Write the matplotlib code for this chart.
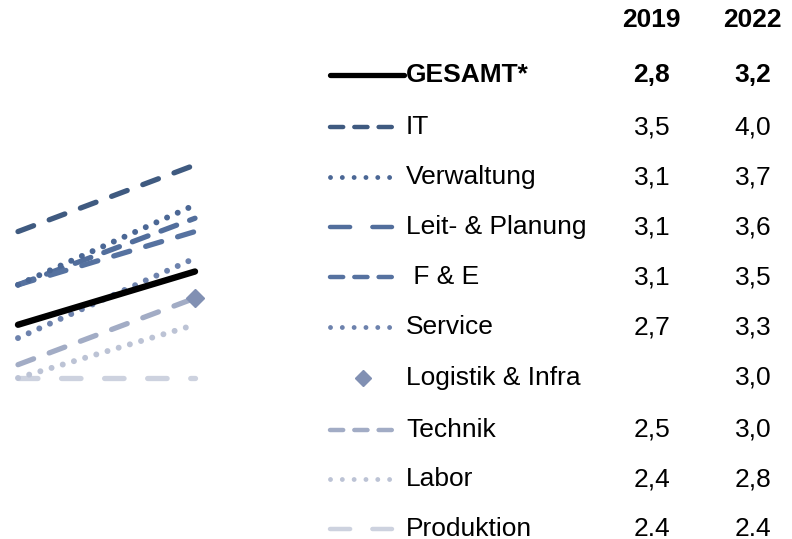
import matplotlib
matplotlib.use("Agg")
import matplotlib.pyplot as plt
from matplotlib.lines import Line2D

plt.rcParams['font.family'] = ['Liberation Sans', 'DejaVu Sans']
plt.rcParams['lines.scale_dashes'] = False

# Daten
years = [2019, 2022]
groups = ["GESAMT*", "IT", "Verwaltung", "Leit- & Planung", " F & E", "Service",
          "Logistik & Infra", "Technik", "Labor", "Produktion"]
values_2019 = [2.8, 3.5, 3.1, 3.1, 3.1, 2.7, None, 2.5, 2.4, 2.4]
values_2022 = [3.2, 4.0, 3.7, 3.6, 3.5, 3.3, 3.0, 3.0, 2.8, 2.4]
labels_2019 = ["2,8", "3,5", "3,1", "3,1", "3,1", "2,7", "", "2,5", "2,4", "2.4"]
labels_2022 = ["3,2", "4,0", "3,7", "3,6", "3,5", "3,3", "3,0", "3,0", "2,8", "2.4"]

# Stil je Gruppe: Farbe, Linienbreite, Dash-Muster (in pt)
colors = ["#000000", "#3F5A80", "#4B6795", "#526E9C", "#5672A0", "#6D82AD",
          "#8190B3", "#A2ACC5", "#BCC3D5", "#CDD2DF"]
widths = [4.6, 3.8, 4.3, 3.8, 3.8, 4.3, 0, 3.8, 4.3, 3.8]
dash_plot = [None, (12, 12), (0.01, 8.4), (12, 10), (12, 12), (0.01, 8.4),
             None, (12, 12), (0.01, 8.4), (14, 17)]
# Legende etwas feiner
widths_leg = [3.8, 3.2, 3.5, 3.2, 3.2, 3.5, 0, 3.2, 3.5, 3.2]
dash_leg = [None, (9.5, 8), (0.01, 8.5), (14.5, 16), (9.5, 8), (0.01, 8.5),
            None, (9.5, 8), (0.01, 8.5), (14.5, 16)]

W, H = 792, 539
FS = 19
fig = plt.figure(figsize=(W / 100, H / 100), dpi=100)

# kleines Slope-Chart links
ax = fig.add_axes([18 / W, 1 - 378 / H, 177 / W, 213 / H])
ax.set_xlim(2019, 2022)
ax.set_ylim(2.4, 4.0)
ax.axis('off')

order = [9, 8, 7, 5, 0, 3, 4, 2, 1, 6]
for i in order:
    if values_2019[i] is None:
        ax.plot([2022], [values_2022[i]], marker='D', markersize=9,
                color=colors[i], linestyle='none', clip_on=False, zorder=5)
        continue
    kw = dict(color=colors[i], linewidth=widths[i], solid_capstyle='round',
              dash_capstyle='round', clip_on=False)
    if dash_plot[i] is not None:
        kw['dashes'] = dash_plot[i]
    ax.plot(years, [values_2019[i], values_2022[i]], **kw)

# Legende / Tabelle rechts
row_y = [75, 127, 177, 227, 277, 327, 378, 430, 479, 529]
fig.text(651 / W, 1 - 20 / H, "2019", ha='center', va='center',
         fontsize=FS, fontweight='bold')
fig.text(752 / W, 1 - 20 / H, "2022", ha='center', va='center',
         fontsize=FS, fontweight='bold')

for i, g in enumerate(groups):
    yy = 1 - row_y[i] / H
    bold = 'bold' if i == 0 else 'normal'
    if values_2019[i] is None:
        fig.add_artist(Line2D([363 / W], [yy], marker='D', markersize=8.5,
                              color=colors[i], linestyle='none'))
    else:
        kw = dict(color=colors[i], linewidth=widths_leg[i],
                  solid_capstyle='round', dash_capstyle='round')
        if dash_leg[i] is not None:
            kw['dashes'] = dash_leg[i]
        x1 = 404 if i == 0 else 392
        fig.add_artist(Line2D([330 / W, x1 / W], [yy, yy], **kw))
    fig.text(406 / W, yy, g, ha='left', va='center', fontsize=FS,
             fontweight=bold)
    fig.text(652 / W, yy, labels_2019[i], ha='center', va='center',
             fontsize=FS, fontweight=bold)
    fig.text(753 / W, yy, labels_2022[i], ha='center', va='center',
             fontsize=FS, fontweight=bold)

fig.savefig("out.png", dpi=100)
